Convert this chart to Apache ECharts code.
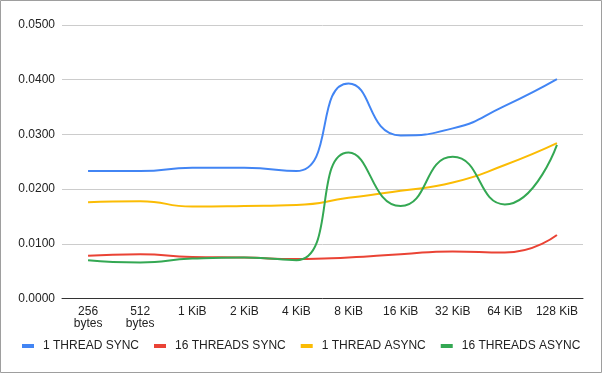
<!DOCTYPE html>
<html>
<head>
<meta charset="utf-8">
<script src="https://cdn.jsdelivr.net/npm/echarts@6/dist/echarts.min.js"></script>
<style>
html,body{margin:0;padding:0;background:#fff;}
#chart{width:602px;height:373px;}
</style>
</head>
<body>
<div id="chart"></div>
<script>
const categories = ['256\nbytes','512\nbytes','1 KiB','2 KiB','4 KiB','8 KiB','16 KiB','32 KiB','64 KiB','128 KiB'];
const seriesNames = ['1 THREAD SYNC','16 THREADS SYNC','1 THREAD ASYNC','16 THREADS ASYNC'];
const oneThreadSync    = [0.0233,0.0233,0.0239,0.0239,0.0233,0.0393,0.0298,0.0311,0.0352,0.0401];
const sixteenThreadsSync  = [0.0078,0.0081,0.0076,0.0075,0.0072,0.0075,0.0081,0.0086,0.0084,0.0116];
const oneThreadAsync   = [0.0176,0.0178,0.0168,0.0169,0.0171,0.0184,0.0197,0.0212,0.0244,0.0284];
const sixteenThreadsAsync = [0.0070,0.0066,0.0073,0.0075,0.0070,0.0267,0.0169,0.0259,0.0172,0.0281];
const yTicks = [0,0.01,0.02,0.03,0.04,0.05];

const colors = ['#4285F4','#EA4335','#FBBC04','#34A853'];
const allData = [oneThreadSync, sixteenThreadsSync, oneThreadAsync, sixteenThreadsAsync];

const chart = echarts.init(document.getElementById('chart'), null, {renderer:'canvas'});
chart.setOption({
  animation:false,
  color: colors,
  textStyle:{fontFamily:'Liberation Sans, Arial, sans-serif'},
  graphic:[{type:'rect',shape:{x:0.5,y:0.5,width:601,height:372},style:{fill:'none',stroke:'#9e9e9e',lineWidth:1},z:-1}],
  grid:{left:62,right:19,top:25,bottom:74.5,containLabel:false},
  legend:{
    left:22, top:340, padding:0, icon:'rect', itemWidth:12, itemHeight:4, itemGap:15,
    textStyle:{fontSize:12,color:'#222',padding:[0,0,0,4]},
    data: seriesNames
  },
  xAxis:{
    type:'category', data:categories, boundaryGap:true,
    axisTick:{show:false},
    axisLine:{lineStyle:{color:'#333',width:1}},
    axisLabel:{color:'#222',fontSize:12,lineHeight:12,margin:7,interval:0}
  },
  yAxis:{
    type:'value', min:yTicks[0], max:yTicks[yTicks.length-1], interval:0.01,
    axisLine:{show:false}, axisTick:{show:false},
    splitLine:{lineStyle:{color:'#cccccc',width:1}},
    axisLabel:{color:'#222',fontSize:12,margin:7,formatter:v=>v.toFixed(4)}
  },
  series: seriesNames.map((n,i)=>({
    name:n, type:'line', data:allData[i], smooth:0.55, showSymbol:false, symbol:'none',
    lineStyle:{width:2,color:colors[i]}
  }))
});
</script>
</body>
</html>
